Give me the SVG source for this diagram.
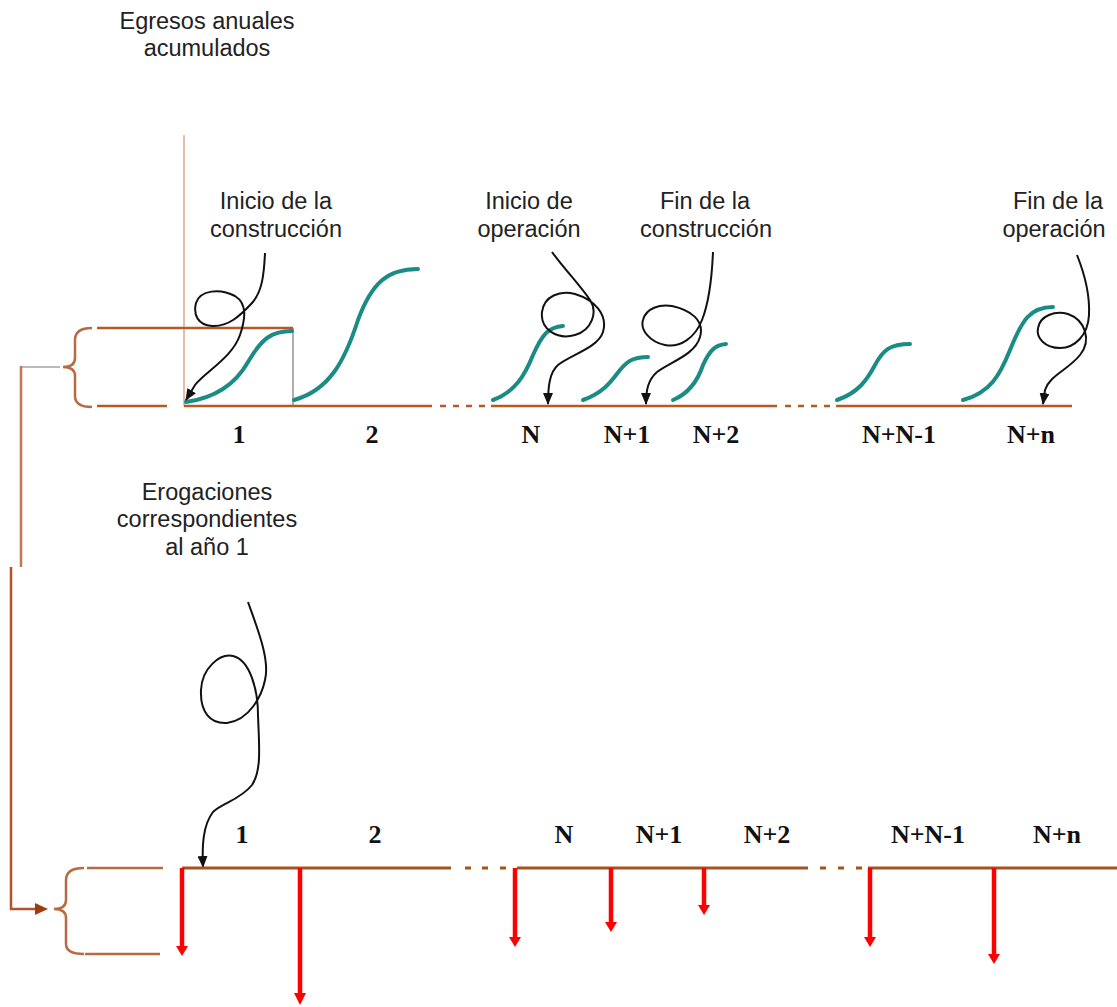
<svg xmlns="http://www.w3.org/2000/svg" width="1117" height="1007" viewBox="0 0 1117 1007">
<defs>
<style>
.lbl{font-family:"Liberation Sans",Arial,sans-serif;font-size:23.5px;fill:#222;text-anchor:middle}
.num{font-family:"Liberation Serif","Times New Roman",serif;font-size:26px;font-weight:bold;fill:#111;text-anchor:middle}
.axis{stroke:#b65a25;stroke-width:2.5;fill:none}
.axis2{stroke:#a5521f;stroke-width:3;fill:none}
.brace{stroke:#b86a40;stroke-width:2.5;fill:none}
.thin{stroke:#d9a78c;stroke-width:1.5;fill:none}
.gray{stroke:#777;stroke-width:1.2;fill:none}
.curve{stroke:#1b8b85;stroke-width:4;fill:none;stroke-linecap:round}
.ptr{stroke:#111;stroke-width:2;fill:none;marker-end:url(#ah)}
.red{stroke:#ff0000;stroke-width:4.5;fill:none}
.redh{fill:#ff0000}
</style>
<marker id="ah" viewBox="0 0 12 10" refX="11" refY="5" markerWidth="12" markerHeight="10" markerUnits="userSpaceOnUse" orient="auto">
<path d="M0,0 L12,5 L0,10 Z" fill="#111"/>
</marker>
</defs>
<rect width="1117" height="1007" fill="#ffffff"/>

<g id="title-top">
<text class="lbl" x="207" y="29">Egresos anuales</text>
<text class="lbl" x="207" y="56">acumulados</text>
</g>

<g id="top-frame">
<line class="thin" x1="184" y1="135" x2="184" y2="406"/>
<line class="axis" x1="97" y1="328" x2="293" y2="328"/>
<line class="gray" x1="293" y1="328" x2="293" y2="406"/>
<line class="axis" x1="97" y1="406" x2="167" y2="406"/>
<path class="brace" d="M92,328 C80,328 75,332 75,340 L75,358 C75,364 71,367 63,367 C71,367 75,370 75,376 L75,396 C75,403 80,407 92,407"/>
</g>

<g id="top-axis">
<path class="axis" d="M184,406 H432 M440,406 H446 M453,406 H459 M466,406 H472 M479,406 H485 M491,406 H777 M785,406 H791 M798,406 H804 M811,406 H817 M824,406 H830 M836,406 H1072"/>
</g>

<g id="top-curves">
<path class="curve" d="M186,402 C215,398 235,385 248,362 C262,338 272,331 292,331"/>
<path class="curve" d="M294,400 C330,390 345,360 358,320 C372,282 388,269 418,269"/>
<path class="curve" d="M493,400 C515,392 525,375 533,355 C542,335 548,327 563,326"/>
<path class="curve" d="M583,400 C605,392 612,380 620,370 C628,360 635,357 648,357"/>
<path class="curve" d="M673,400 C690,393 698,380 703,365 C710,350 715,345 726,344"/>
<path class="curve" d="M837,400 C858,393 867,380 875,365 C883,350 890,344 910,344"/>
<path class="curve" d="M963,400 C990,393 1000,375 1010,350 C1022,320 1030,307 1053,307"/>
</g>

<g id="top-labels">
<text class="lbl" x="276" y="209">Inicio de la</text>
<text class="lbl" x="276" y="237">construcción</text>
<text class="lbl" x="529" y="209">Inicio de</text>
<text class="lbl" x="529" y="237">operación</text>
<text class="lbl" x="705" y="209">Fin de la</text>
<text class="lbl" x="706" y="237">construcción</text>
<text class="lbl" x="1058" y="209">Fin de la</text>
<text class="lbl" x="1054" y="237">operación</text>
</g>

<g id="top-numbers">
<text class="num" x="239" y="443">1</text>
<text class="num" x="372" y="443">2</text>
<text class="num" x="531" y="443">N</text>
<text class="num" x="627" y="443">N+1</text>
<text class="num" x="716" y="443">N+2</text>
<text class="num" x="899" y="443">N+N-1</text>
<text class="num" x="1031" y="443">N+n</text>
</g>

<g id="connectors">
<path class="ptr" d="M265,253 C264,275 262,292 252,303 C240,316 228,327 212,326 C198,325 193,315 196,303 C200,290 220,288 235,296 C248,304 245,320 240,335 C232,358 205,372 195,385 L186,400"/>
<path class="ptr" d="M552,252 C565,270 580,285 590,300 C598,312 592,330 575,335 C558,340 540,330 542,312 C544,296 560,290 575,294 C595,300 608,315 603,332 C598,348 570,355 558,365 C550,372 548,385 548,404"/>
<path class="ptr" d="M713,252 C712,275 710,300 702,320 C695,338 680,348 665,345 C650,342 640,330 643,320 C646,308 660,304 672,306 C690,310 705,320 700,337 C695,355 670,362 657,372 C648,380 646,390 646,404"/>
<path class="ptr" d="M1077,255 C1085,275 1090,295 1089,315 C1088,335 1075,348 1060,348 C1045,348 1036,338 1038,328 C1040,316 1055,310 1068,314 C1085,320 1092,340 1080,355 C1068,370 1050,375 1045,390 L1043,404"/>
<path class="ptr" d="M248,602 C258,630 270,660 265,680 C262,695 250,720 227,723 C210,724 200,712 201,690 C202,668 220,653 233,656 C250,660 258,690 258,715 C259,745 262,770 252,785 C240,800 222,803 213,812 C203,825 202,845 203,867"/>
<line class="gray" x1="22" y1="367" x2="60" y2="367"/>
<line stroke="#c07850" stroke-width="2.5" x1="21" y1="366" x2="21" y2="567"/>
<polyline fill="none" stroke="#b0552a" stroke-width="2.5" points="11,567 11,909 38,909"/>
<path d="M35,903 L48,909 L35,915 Z" fill="#9c3f10"/>
</g>

<g id="title-bottom">
<text class="lbl" x="207" y="500">Erogaciones</text>
<text class="lbl" x="207" y="527">correspondientes</text>
<text class="lbl" x="207" y="555">al año 1</text>
</g>

<g id="bottom-frame">
<line class="brace" x1="87" y1="868" x2="163" y2="868"/>
<line class="brace" x1="85" y1="954" x2="160" y2="954"/>
<path class="brace" d="M84,868 C72,868 66,872 66,880 L66,900 C66,906 62,909 54,909 C62,909 66,912 66,918 L66,944 C66,951 72,954 84,954"/>
</g>

<g id="bottom-axis">
<path class="axis2" d="M182,868 H451 M465,868 H471 M482,868 H488 M500,868 H506 M517,868 H808 M820,868 H826 M838,868 H844 M856,868 H862 M868,868 H1117"/>
</g>

<g id="bottom-numbers">
<text class="num" x="242" y="843">1</text>
<text class="num" x="375" y="843">2</text>
<text class="num" x="564" y="843">N</text>
<text class="num" x="659" y="843">N+1</text>
<text class="num" x="767" y="843">N+2</text>
<text class="num" x="928" y="843">N+N-1</text>
<text class="num" x="1057" y="843">N+n</text>
</g>

<g id="flows">
<line class="red" stroke-width="3.5" x1="182" y1="868" x2="182" y2="948"/>
<path class="redh" d="M176,946 L188,946 L182,956 Z"/>
<line class="red" stroke-width="5" x1="300" y1="868" x2="300" y2="994"/>
<path class="redh" d="M294,993 L306,993 L300,1005 Z"/>
<line class="red" x1="515" y1="868" x2="515" y2="938"/>
<path class="redh" d="M509,937 L521,937 L515,947 Z"/>
<line class="red" x1="611" y1="868" x2="611" y2="923"/>
<path class="redh" d="M605,922 L617,922 L611,932 Z"/>
<line class="red" x1="704" y1="868" x2="704" y2="906"/>
<path class="redh" d="M698,905 L710,905 L704,915 Z"/>
<line class="red" x1="870" y1="868" x2="870" y2="938"/>
<path class="redh" d="M864,937 L876,937 L870,947 Z"/>
<line class="red" x1="994" y1="868" x2="994" y2="955"/>
<path class="redh" d="M988,954 L1000,954 L994,964 Z"/>
</g>
</svg>
